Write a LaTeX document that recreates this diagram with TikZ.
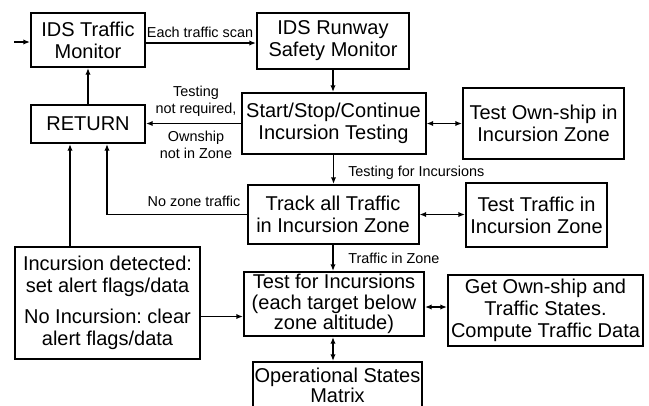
\documentclass[tikz,border=0pt]{standalone}
\usepackage{fontspec}
\setmainfont{Liberation Sans}
\usetikzlibrary{arrows.meta,calc}
\frenchspacing
\begin{document}
\begin{tikzpicture}[x=0.75pt,y=-0.75pt,
  box/.style 2 args={draw, line width=1.5pt, align=center, inner sep=1pt,
    minimum width=#1*0.75pt, minimum height=#2*0.75pt,
    font=\fontsize{15}{16.5}\selectfont},
  lbl/.style={font=\fontsize{10.8}{13}\selectfont, align=center, inner sep=0pt},
  arr/.style={line width=1.1pt, -{Latex[length=5pt,width=4pt]}},
  darr/.style={line width=1.1pt, {Latex[length=5pt,width=4pt]}-{Latex[length=5pt,width=4pt]}}]
\useasboundingbox (0,0) rectangle (649,405);
\clip (0,0) rectangle (649,405);
% boxes
\node[box={114}{54}] (mon) at (88,40) {IDS Traffic\\Monitor};
\node[box={152}{56}] (rsm) at (333,41) {IDS Runway\\Safety Monitor};
\node[box={184}{61}] (ssc) at (333.5,123.5) {Start/Stop/Continue\\Incursion Testing};
\node[box={161}{71}] (own) at (543.5,123.5) {Test Own-ship in\\Incursion Zone};
\node[box={114}{38}] (ret) at (88,124) {RETURN};
\node[box={171}{59}] (trk) at (333,214.5) {Track all Traffic\\in Incursion Zone};
\node[box={141}{64}] (ttz) at (536.5,215) {Test Traffic in\\Incursion Zone};
\node[box={180}{64}, font=\fontsize{15}{15.5}\selectfont] (tfi) at (334,304) {Test for Incursions\\(each target below\\zone altitude)};
\node[box={195}{71}] (get) at (545.5,310.5) {Get Own-ship and\\Traffic States.\\Compute Traffic Data};
\node[box={185}{112}] (inc) at (107.5,303) {Incursion detected:\\set alert flags/data\\[7pt]No Incursion: clear\\alert flags/data};
\node[box={168}{46}, font=\fontsize{15}{15}\selectfont] (ops) at (337.5,385) {Operational States\\Matrix};
% labels
\node[lbl] (l1) at (200,32) {Each traffic scan};
\node[lbl] (l2) at (196,101) {Testing\\not required,};
\node[lbl] (l3) at (196,145) {Ownship\\not in Zone};
\node[lbl, anchor=west] (l4) at (348,173) {Testing for Incursions};
\node[lbl] (l5) at (194,201) {No zone traffic};
\node[lbl, anchor=west] (l6) at (348,258) {Traffic in Zone};
% connectors
\coordinate (in) at (14,42);
\draw[arr] (in) -- (in -| mon.west);
\coordinate (m1) at ($(mon.east)+(0,3)$);
\draw[arr] (m1) -- (m1 -| rsm.west);
\draw[arr] (rsm.south) -- (ssc.north -| rsm.south);
\draw[arr] (ssc.west) -- (ssc.west -| ret.east);
\draw[arr] (ret.north) -- (mon.south);
\draw[darr] (ssc.east) -- (ssc.east -| own.west);
\draw[arr] (ssc.south) -- (ssc.south |- trk.north);
\coordinate (r1) at ($(ret.south)+(-18,0)$);
\coordinate (r2) at ($(ret.south)+(19,0)$);
\draw[arr] (trk.west) -- (trk.west -| r2) -- (r2);
\draw[darr] (trk.east) -- (trk.east -| ttz.west);
\draw[arr] (trk.south) -- (trk.south |- tfi.north);
\draw[darr] (tfi.east |- get.west) ++(0,-3.5) coordinate (t1) -- (t1 -| get.west);
\draw[darr] (tfi.south -| trk.south) -- (ops.north -| trk.south);
\draw[arr] (inc.north -| r1) -- (r1);
\coordinate (i1) at ($(inc.east)+(0,13.5)$);
\draw[arr] (i1) -- (i1 -| tfi.west);
\end{tikzpicture}
\end{document}
